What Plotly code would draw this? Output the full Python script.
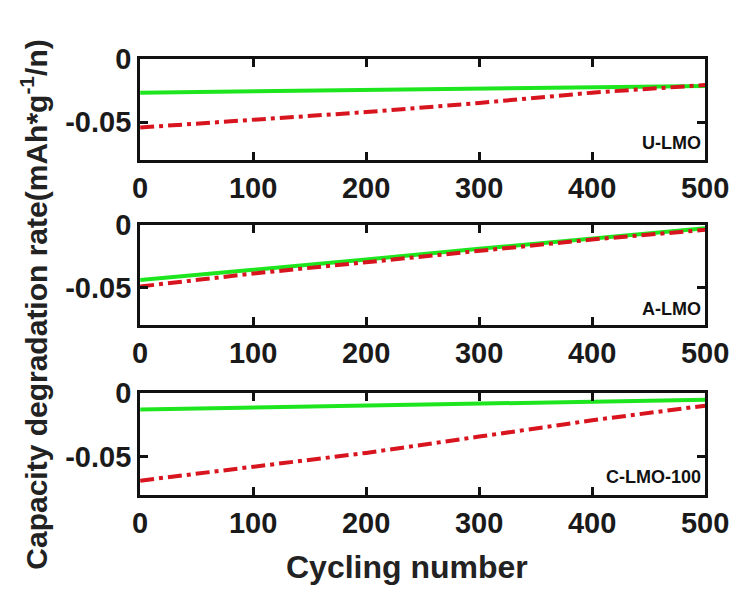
import plotly.graph_objects as go

# Cycle numbers at which the fitted degradation rates are sampled
cycles = [0, 100, 200, 300, 400, 500]

# Degradation rate (mAh*g^-1 per cycle) for each sample: solid and dash-dot fits
u_lmo_solid = [-0.0266, -0.0256, -0.0246, -0.0236, -0.0225, -0.0214]
u_lmo_dash = [-0.0542, -0.0483, -0.0420, -0.0348, -0.0266, -0.0206]

a_lmo_solid = [-0.0439, -0.0360, -0.0275, -0.0190, -0.0110, -0.0026]
a_lmo_dash = [-0.0490, -0.0387, -0.0297, -0.0206, -0.0116, -0.0039]

c_lmo_solid = [-0.0132, -0.0117, -0.0102, -0.0087, -0.0071, -0.0056]
c_lmo_dash = [-0.0686, -0.0579, -0.0470, -0.0343, -0.0216, -0.0102]

panel_names = ["U-LMO", "A-LMO", "C-LMO-100"]
x_ticks = [0, 100, 200, 300, 400, 500]
y_tick_vals = [-0.05, 0]
y_tick_text = ["-0.05", "0"]

FONT = "Arial, Liberation Sans, Helvetica, sans-serif"
GREEN = "#1ee61e"
RED = "#d8141e"

panels = [
    (u_lmo_solid, u_lmo_dash, [0.749, 0.925]),
    (a_lmo_solid, a_lmo_dash, [0.461, 0.636]),
    (c_lmo_solid, c_lmo_dash, [0.165, 0.344]),
]

fig = go.Figure()
layout = {}
for i, (solid, dash, ydom) in enumerate(panels, start=1):
    sfx = "" if i == 1 else str(i)
    xa, ya = "x" + sfx, "y" + sfx
    fig.add_trace(go.Scatter(x=cycles, y=solid, mode="lines", xaxis=xa, yaxis=ya,
                             line=dict(color=GREEN, width=4), showlegend=False))
    fig.add_trace(go.Scatter(x=cycles, y=dash, mode="lines", xaxis=xa, yaxis=ya,
                             line=dict(color=RED, width=4, dash="14px,5px,4px,5px"),
                             showlegend=False))
    common = dict(showline=True, linecolor="#111", linewidth=3, mirror="allticks",
                  ticks="inside", ticklen=8, tickwidth=3, tickcolor="#111",
                  showgrid=False, zeroline=False,
                  tickfont=dict(family=FONT, size=29, color="#1a1a1a", weight="bold"))
    layout["xaxis" + sfx] = dict(domain=[0.183, 0.9655], range=[0, 500], anchor=ya,
                                 tickvals=x_ticks, **common)
    layout["yaxis" + sfx] = dict(domain=ydom, range=[-0.08, 0], anchor=xa,
                                 tickvals=y_tick_vals, ticktext=y_tick_text, **common)

annotations = []
label_y = [0.778, 0.490, 0.197]
for name, yy in zip(panel_names, label_y):
    annotations.append(dict(text="<b>%s</b>" % name, xref="paper", yref="paper",
                            x=0.963, y=yy, xanchor="right", yanchor="middle",
                            showarrow=False, font=dict(family=FONT, size=18, color="#111")))

annotations.append(dict(text="<b>Cycling number</b>", xref="paper", yref="paper",
                        x=0.553, y=0.040, xanchor="center", yanchor="middle",
                        showarrow=False, font=dict(family=FONT, size=32, color="#222")))
annotations.append(dict(text="<b>Capacity degradation rate(mAh*g<sup>-1</sup>/n)</b>",
                        xref="paper", yref="paper", x=0.036, y=0.497, textangle=-90,
                        xanchor="center", yanchor="middle", showarrow=False,
                        font=dict(family=FONT, size=30, color="#222")))

fig.update_layout(width=754, height=590, margin=dict(l=0, r=0, t=0, b=0),
                  plot_bgcolor="white", paper_bgcolor="white",
                  annotations=annotations, **layout)

fig.write_html("out.html")
